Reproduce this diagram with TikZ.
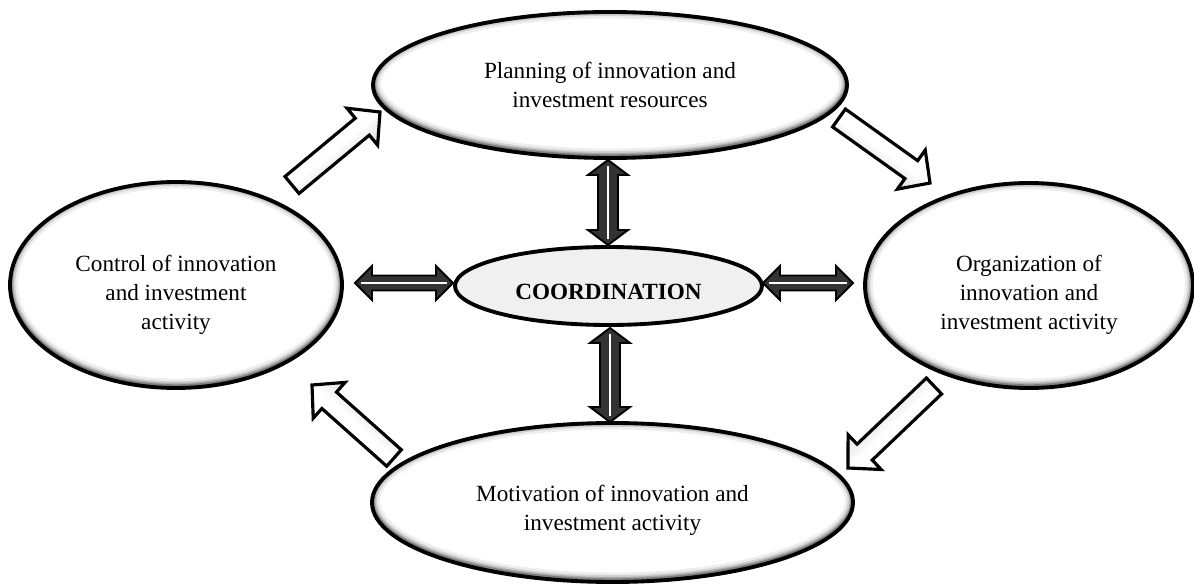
\documentclass[tikz,border=0pt]{standalone}
\usepackage{fontspec}
\setmainfont{Liberation Serif}
\usetikzlibrary{calc,shapes.geometric}
\tikzset{
  ellnode/.style={ellipse, draw=black, line width=2.2pt, inner sep=0pt, align=center,
    font=\fontsize{13.2}{16.5}\selectfont},
  coordnode/.style={ellnode, fill=black!6, font=\fontsize{13.2}{16.5}\selectfont\bfseries},
  blk/.style={draw=black, line width=1.8pt, line join=miter, top color=white, bottom color=black!25, middle color=white},
  dbl/.style={draw=black, line width=1.1pt, line join=miter, fill=black!80},
  dblstripe/.style={white, line width=1.6pt},
}
\newcommand{\lowr}[1]{\rule{0pt}{#1}}
\newcommand{\shadedell}[6]{%
  \fill[white] (#2,#3) ellipse ({#4/2} and {#5/2});
  \begin{scope}
    \clip (#2,#3) ellipse ({#4/2} and {#5/2});
    \foreach \lw/\op in {9/0.07,6/0.12,4/0.18,2.5/0.25}
      \draw[line width=\lw pt, black, opacity=\op] (#2,#3+0.03) ellipse ({#4/2} and {#5/2});
  \end{scope}
  \node[ellnode, minimum width=#4 cm, minimum height=#5 cm] (#1) at (#2,#3) {#6};
}
\newcommand{\dblarr}[5]{%
  \coordinate (na) at ($(#1)!#5!(#2)$);
  \coordinate (nb) at ($(#2)!#5!(#1)$);
  \filldraw[dbl] (#1) -- ($(na)!#4!90:(#2)$) -- ($(na)!#3!90:(#2)$) -- ($(nb)!#3!-90:(#1)$) -- ($(nb)!#4!-90:(#1)$) -- (#2) -- ($(nb)!#4!90:(#1)$) -- ($(nb)!#3!90:(#1)$) -- ($(na)!#3!-90:(#2)$) -- ($(na)!#4!-90:(#2)$) -- cycle;
  \draw[dblstripe] ($(#1)!0.12cm!(#2)$) -- ($(#2)!0.12cm!(#1)$);
}
\newcommand{\blkarr}[3]{%
  \coordinate (nn) at ($(#2)!0.46cm!(#1)$);
  \shadedraw[blk, shading angle=#3] ($(#1)!0.22cm!90:(#2)$) -- ($(nn)!0.22cm!90:(#2)$) -- ($(nn)!0.48cm!90:(#2)$) -- (#2) -- ($(nn)!0.48cm!-90:(#2)$) -- ($(nn)!0.22cm!-90:(#2)$) -- ($(#1)!0.22cm!-90:(#2)$) -- cycle;
}
\begin{document}
\begin{tikzpicture}
\useasboundingbox (0,0) rectangle (23.88,-11.7);
% ellipses
\shadedell{plan}{12.2}{-1.7}{9.48}{2.92}{Planning of innovation and\\investment resources}
\shadedell{ctrl}{3.52}{-5.7}{6.64}{4.12}{\lowr{20pt}Control of innovation\\and investment\\activity}
\shadedell{org}{20.58}{-5.71}{6.56}{4.1}{\lowr{20pt}Organization of\\innovation and\\investment activity}
\shadedell{motiv}{12.25}{-10.05}{9.62}{3.18}{\lowr{18.5pt}Motivation of innovation and\\investment activity}
\node[coordnode, minimum width=6.14cm, minimum height=1.56cm] (coord) at (12.17,-5.72) {\lowr{15.5pt}COORDINATION};
% double arrow end points
\coordinate (v1a) at (12.16,-3.2);  \coordinate (v1b) at (12.16,-4.9);
\coordinate (v2a) at (12.2,-6.56);  \coordinate (v2b) at (12.2,-8.44);
\coordinate (h1a) at (7.1,-5.66);   \coordinate (h1b) at (9.06,-5.66);
\coordinate (h2a) at (15.26,-5.66); \coordinate (h2b) at (17.06,-5.66);
\dblarr{v1a}{v1b}{0.2cm}{0.4cm}{0.3cm}
\dblarr{v2a}{v2b}{0.2cm}{0.4cm}{0.3cm}
\dblarr{h1a}{h1b}{0.15cm}{0.34cm}{0.34cm}
\dblarr{h2a}{h2b}{0.15cm}{0.34cm}{0.34cm}
% block arrow end points
\coordinate (b1t) at (5.84,-3.7);   \coordinate (b1h) at (7.6,-2.24);
\coordinate (b2t) at (16.78,-2.36); \coordinate (b2h) at (18.6,-3.66);
\coordinate (b3t) at (18.68,-7.72); \coordinate (b3h) at (16.96,-9.36);
\coordinate (b4t) at (7.88,-9.16);  \coordinate (b4h) at (6.24,-7.7);
\blkarr{b1t}{b1h}{40}
\blkarr{b2t}{b2h}{-35}
\blkarr{b3t}{b3h}{-136}
\blkarr{b4t}{b4h}{138}
\end{tikzpicture}
\end{document}
